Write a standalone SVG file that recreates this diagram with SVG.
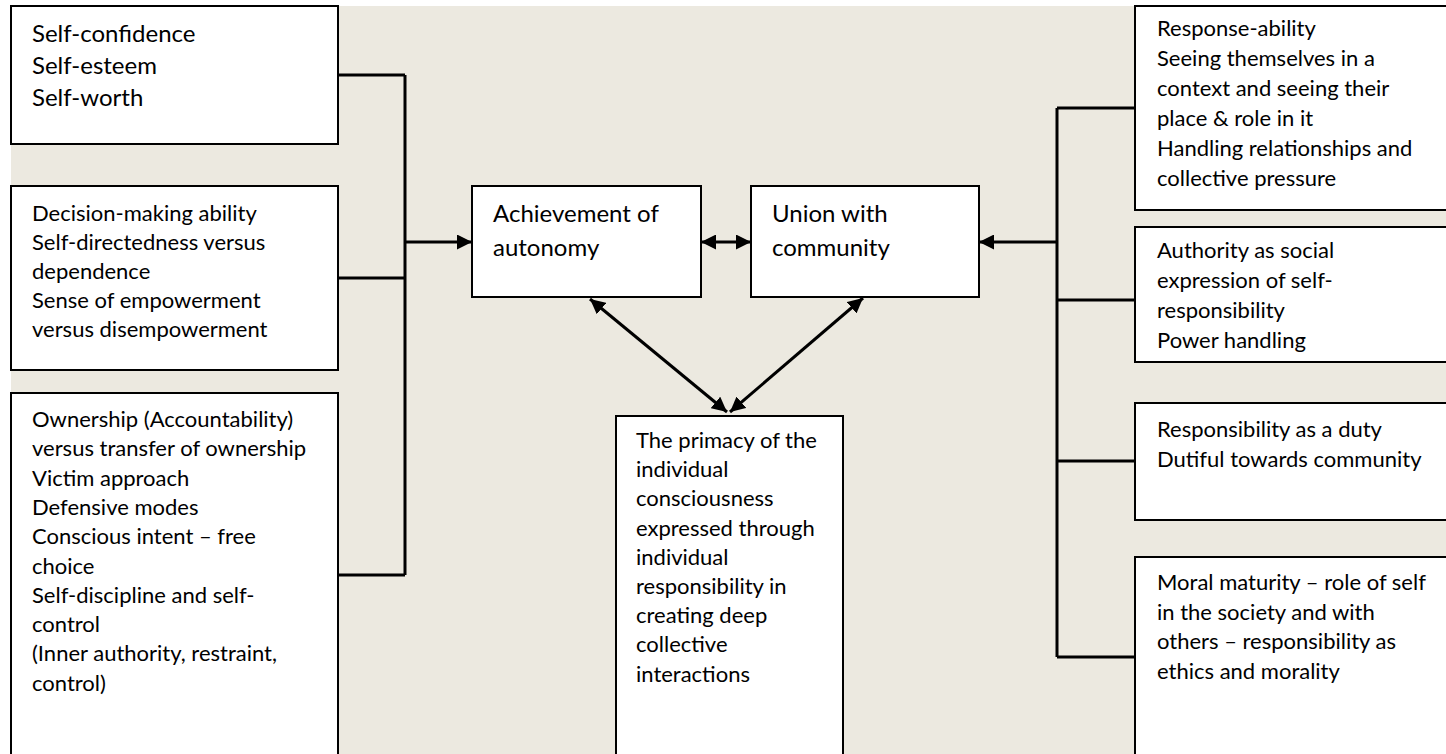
<svg xmlns="http://www.w3.org/2000/svg" width="1446" height="754" viewBox="0 0 1446 754">
  <style>
    .box { fill: #ffffff; stroke: #000000; stroke-width: 2; }
    .txt { font-family: Lato, "Liberation Sans", sans-serif; font-size: 22px; fill: #000000; }
    .big { font-size: 24px; }
    .wire { fill: none; stroke: #000000; stroke-width: 3; }
  </style>
  <defs>
    <marker id="head" markerUnits="userSpaceOnUse" markerWidth="15" markerHeight="15" refX="15" refY="7.5" orient="auto-start-reverse">
      <path d="M0,0 L15,7.5 L0,15 Z" fill="#000000"/>
    </marker>
  </defs>

  <!-- page background -->
  <rect x="0" y="0" width="1446" height="754" fill="#ffffff"/>
  <rect x="11" y="6" width="1435" height="748" fill="#ECE9E0"/>

  <!-- left column -->
  <g id="self-worth">
    <rect class="box" x="11" y="6" width="327" height="138"/>
    <text class="txt big" x="32"><tspan x="32" y="42">Self-confidence</tspan><tspan x="32" y="74">Self-esteem</tspan><tspan x="32" y="106">Self-worth</tspan></text>
  </g>
  <g id="decision-making">
    <rect class="box" x="11" y="186" width="327" height="184"/>
    <text class="txt" x="32"><tspan x="32" y="220.5">Decision-making ability</tspan><tspan x="32" y="249.7">Self-directedness versus</tspan><tspan x="32" y="278.9">dependence</tspan><tspan x="32" y="308.1">Sense of empowerment</tspan><tspan x="32" y="337.3">versus disempowerment</tspan></text>
  </g>
  <g id="ownership">
    <rect class="box" x="11" y="393" width="327" height="380"/>
    <text class="txt" x="32"><tspan x="32" y="427">Ownership (Accountability)</tspan><tspan x="32" y="456.3">versus transfer of ownership</tspan><tspan x="32" y="485.6">Victim approach</tspan><tspan x="32" y="514.9">Defensive modes</tspan><tspan x="32" y="544.2">Conscious intent – free</tspan><tspan x="32" y="573.5">choice</tspan><tspan x="32" y="602.8">Self-discipline and self-</tspan><tspan x="32" y="632.1">control</tspan><tspan x="32" y="661.4">(Inner authority, restraint,</tspan><tspan x="32" y="690.7">control)</tspan></text>
  </g>

  <!-- centre -->
  <g id="autonomy">
    <rect class="box" x="472" y="186" width="229" height="111"/>
    <text class="txt big"><tspan x="493" y="222">Achievement of</tspan><tspan x="493" y="256">autonomy</tspan></text>
  </g>
  <g id="community">
    <rect class="box" x="751" y="186" width="228" height="111"/>
    <text class="txt big"><tspan x="772" y="222">Union with</tspan><tspan x="772" y="256">community</tspan></text>
  </g>
  <g id="primacy">
    <rect class="box" x="616" y="416" width="227" height="360"/>
    <text class="txt"><tspan x="636" y="448">The primacy of the</tspan><tspan x="636" y="477.2">individual</tspan><tspan x="636" y="506.4">consciousness</tspan><tspan x="636" y="535.6">expressed through</tspan><tspan x="636" y="564.8">individual</tspan><tspan x="636" y="594">responsibility in</tspan><tspan x="636" y="623.2">creating deep</tspan><tspan x="636" y="652.4">collective</tspan><tspan x="636" y="681.6">interactions</tspan></text>
  </g>

  <!-- right column -->
  <g id="response-ability">
    <rect class="box" x="1135" y="6" width="330" height="204"/>
    <text class="txt"><tspan x="1157" y="36">Response-ability</tspan><tspan x="1157" y="66">Seeing themselves in a</tspan><tspan x="1157" y="96">context and seeing their</tspan><tspan x="1157" y="126">place &amp; role in it</tspan><tspan x="1157" y="156">Handling relationships and</tspan><tspan x="1157" y="186">collective pressure</tspan></text>
  </g>
  <g id="authority">
    <rect class="box" x="1135" y="227" width="330" height="135"/>
    <text class="txt"><tspan x="1157" y="258">Authority as social</tspan><tspan x="1157" y="288">expression of self-</tspan><tspan x="1157" y="318">responsibility</tspan><tspan x="1157" y="348">Power handling</tspan></text>
  </g>
  <g id="duty">
    <rect class="box" x="1135" y="403" width="330" height="117"/>
    <text class="txt"><tspan x="1157" y="437">Responsibility as a duty</tspan><tspan x="1157" y="467">Dutiful towards community</tspan></text>
  </g>
  <g id="moral-maturity">
    <rect class="box" x="1135" y="557" width="330" height="220"/>
    <text class="txt"><tspan x="1157" y="590">Moral maturity – role of self</tspan><tspan x="1157" y="619.5">in the society and with</tspan><tspan x="1157" y="649">others – responsibility as</tspan><tspan x="1157" y="678.5">ethics and morality</tspan></text>
  </g>

  <!-- connectors -->
  <g id="connectors">
    <path class="wire" d="M338,75 H405 M338,278 H405 M338,575 H405 M405,75 V575"/>
    <path class="wire" d="M405,242 H472" marker-end="url(#head)"/>
    <path class="wire" d="M701,242 H751" marker-start="url(#head)" marker-end="url(#head)"/>
    <path class="wire" d="M1135,108 H1057 M1135,300 H1057 M1135,461 H1057 M1135,657 H1057 M1057,108 V657"/>
    <path class="wire" d="M1057,242 H979" marker-end="url(#head)"/>
    <path class="wire" d="M590,299 L727,412" marker-start="url(#head)" marker-end="url(#head)"/>
    <path class="wire" d="M863,298 L730,412" marker-start="url(#head)" marker-end="url(#head)"/>
  </g>
</svg>
